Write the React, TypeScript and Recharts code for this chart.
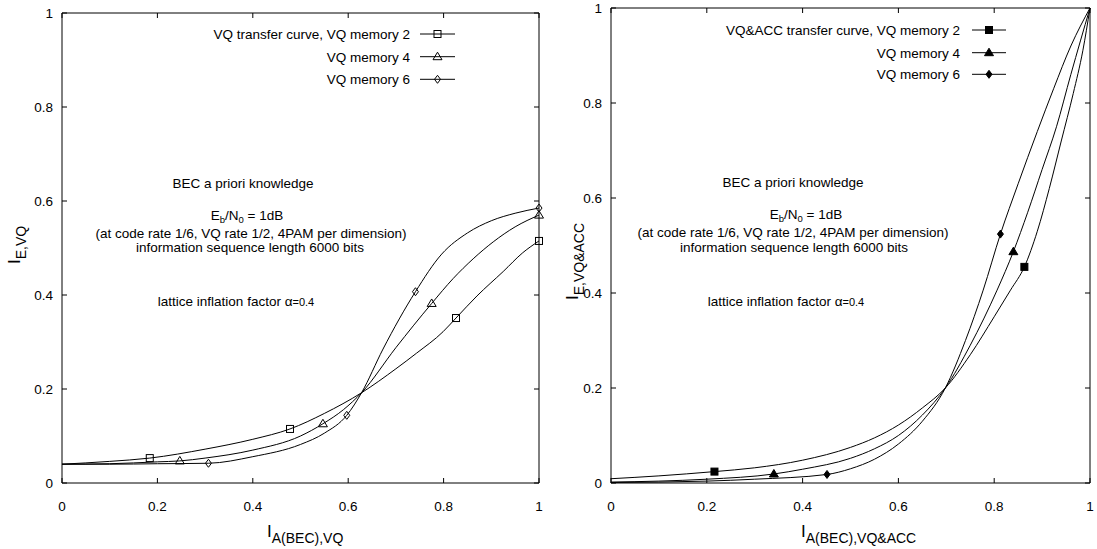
import React from "react";
import { ComposedChart, Line, XAxis, YAxis, ReferenceLine } from "recharts";

const FONT = "'Liberation Sans', Arial, Helvetica, sans-serif";

const axisTicks = [0, 0.2, 0.4, 0.6, 0.8, 1];

// left panel: VQ transfer curves
const leftMem2X = [0, 0.1, 0.184, 0.3, 0.4, 0.478, 0.55, 0.628, 0.7, 0.743, 0.799, 0.826, 0.87, 0.925, 0.966, 1];
const leftMem2Y = [0.04, 0.046, 0.053, 0.072, 0.093, 0.115, 0.148, 0.192, 0.243, 0.276, 0.322, 0.351, 0.398, 0.45, 0.49, 0.515];
const leftMem2Marks = [2, 5, 11, 15];

const leftMem4X = [0, 0.1, 0.2, 0.247, 0.3, 0.4, 0.5, 0.547, 0.59, 0.628, 0.7, 0.775, 0.82, 0.862, 0.904, 0.95, 1];
const leftMem4Y = [0.04, 0.041, 0.045, 0.047, 0.053, 0.07, 0.1, 0.126, 0.156, 0.192, 0.288, 0.382, 0.435, 0.477, 0.513, 0.545, 0.57];
const leftMem4Marks = [3, 7, 11, 16];

const leftMem6X = [0, 0.1, 0.2, 0.307, 0.4, 0.5, 0.55, 0.597, 0.628, 0.673, 0.741, 0.796, 0.85, 0.9, 0.95, 1];
const leftMem6Y = [0.04, 0.04, 0.041, 0.042, 0.056, 0.082, 0.106, 0.144, 0.192, 0.285, 0.407, 0.487, 0.532, 0.558, 0.574, 0.585];
const leftMem6Marks = [3, 7, 10, 15];

// right panel: VQ&ACC transfer curves
const rightMem2X = [0, 0.1, 0.216, 0.3, 0.4, 0.5, 0.55, 0.6, 0.65, 0.698, 0.75, 0.8, 0.834, 0.863, 0.89, 0.915, 0.94, 0.965, 0.985, 1];
const rightMem2Y = [0.009, 0.015, 0.024, 0.032, 0.048, 0.075, 0.095, 0.122, 0.158, 0.2, 0.27, 0.35, 0.406, 0.455, 0.53, 0.62, 0.72, 0.82, 0.91, 1];
const rightMem2Marks = [2, 13];

const rightMem4X = [0, 0.1, 0.2, 0.34, 0.4, 0.5, 0.55, 0.6, 0.65, 0.698, 0.75, 0.806, 0.84, 0.87, 0.9, 0.93, 0.96, 1];
const rightMem4Y = [0.002, 0.004, 0.008, 0.019, 0.029, 0.052, 0.072, 0.1, 0.143, 0.2, 0.29, 0.406, 0.487, 0.57, 0.66, 0.75, 0.86, 1];
const rightMem4Marks = [3, 12];

const rightMem6X = [0, 0.2, 0.3, 0.451, 0.5, 0.55, 0.6, 0.65, 0.698, 0.74, 0.777, 0.813, 0.85, 0.89, 0.924, 0.96, 1];
const rightMem6Y = [0.001, 0.004, 0.008, 0.018, 0.03, 0.05, 0.082, 0.13, 0.2, 0.3, 0.406, 0.524, 0.63, 0.74, 0.83, 0.92, 1];
const rightMem6Marks = [3, 11];

const leftLegend = ["VQ transfer curve, VQ memory 2", "VQ memory 4", "VQ memory 6"];
const rightLegend = ["VQ&ACC transfer curve, VQ memory 2", "VQ memory 4", "VQ memory 6"];

type Frame = { left: number; right: number; top: number; bottom: number };
type Shape = "square" | "triangle" | "diamond";

const zip = (xs: number[], ys: number[]) => xs.map((x, i) => ({ x, y: ys[i] }));

const Marker = ({ cx, cy, shape, filled }: { cx: number; cy: number; shape: Shape; filled: boolean }) => {
  const fill = filled ? "#000" : "none";
  if (shape === "square")
    return <rect x={cx - 3.5} y={cy - 3.5} width={7} height={7} fill={fill} stroke="#000" />;
  if (shape === "triangle")
    return <polygon points={`${cx},${cy - 4.5} ${cx + 4.5},${cy + 3} ${cx - 4.5},${cy + 3}`} fill={fill} stroke="#000" />;
  return <polygon points={`${cx},${cy - 4} ${cx + 3},${cy} ${cx},${cy + 4} ${cx - 3},${cy}`} fill={fill} stroke="#000" />;
};

const XTick = (props: any) => {
  const { payload, frame } = props;
  const x = payload.coordinate;
  return (
    <g>
      <line x1={x} x2={x} y1={frame.bottom} y2={frame.bottom - 5} stroke="#000" />
      <line x1={x} x2={x} y1={frame.top} y2={frame.top + 5} stroke="#000" />
      <text x={x} y={frame.bottom + 28} textAnchor="middle" fontSize={13.5} fontFamily={FONT} fill="#000">
        {String(payload.value)}
      </text>
    </g>
  );
};

const YTick = (props: any) => {
  const { payload, frame } = props;
  const y = payload.coordinate;
  return (
    <g>
      <line x1={frame.left} x2={frame.left + 5} y1={y} y2={y} stroke="#000" />
      <line x1={frame.right} x2={frame.right - 5} y1={y} y2={y} stroke="#000" />
      <text x={frame.left - 9} y={y + 4.8} textAnchor="end" fontSize={13.5} fontFamily={FONT} fill="#000">
        {String(payload.value)}
      </text>
    </g>
  );
};

type Series = { data: { x: number; y: number }[]; marks: number[]; shape: Shape };

const Panel = ({ width, frame, series, filled }: { width: number; frame: Frame; series: Series[]; filled: boolean }) => (
  <ComposedChart
    width={width}
    height={549}
    margin={{ top: frame.top, right: width - frame.right, bottom: 0, left: 0 }}
  >
    <XAxis
      type="number"
      dataKey="x"
      domain={[0, 1]}
      ticks={axisTicks}
      interval={0}
      height={549 - frame.bottom}
      axisLine={{ stroke: "#000" }}
      tickLine={false}
      tick={<XTick frame={frame} />}
    />
    <YAxis
      type="number"
      domain={[0, 1]}
      ticks={axisTicks}
      interval={0}
      width={frame.left}
      axisLine={{ stroke: "#000" }}
      tickLine={false}
      tick={<YTick frame={frame} />}
    />
    <ReferenceLine y={1} stroke="#000" />
    <ReferenceLine x={1} stroke="#000" />
    {series.map((s, k) => (
      <Line
        key={k}
        data={s.data}
        dataKey="y"
        type="monotone"
        stroke="#000"
        strokeWidth={1}
        isAnimationActive={false}
        activeDot={false}
        dot={(p: any) =>
          s.marks.includes(p.index) ? (
            <Marker key={p.index} cx={p.cx} cy={p.cy} shape={s.shape} filled={filled} />
          ) : (
            <g key={p.index} />
          )
        }
      />
    ))}
  </ComposedChart>
);

const Legend = ({ labels, textEnd, lineX1, lineX2, rows, filled }: any) => {
  const shapes: Shape[] = ["square", "triangle", "diamond"];
  return (
    <g>
      {labels.map((t: string, i: number) => (
        <g key={t}>
          <text x={textEnd} y={rows[i] + 4.8} textAnchor="end" fontSize={13.5}>
            {t}
          </text>
          <line x1={lineX1} x2={lineX2} y1={rows[i]} y2={rows[i]} stroke="#000" />
          <Marker cx={(lineX1 + lineX2) / 2} cy={rows[i]} shape={shapes[i]} filled={filled} />
        </g>
      ))}
    </g>
  );
};

const Notes = ({ cx, ys }: { cx: number[]; ys: number[] }) => (
  <g fontSize={13.5} textAnchor="middle">
    <text x={cx[0]} y={ys[0]}>BEC a priori knowledge</text>
    <text x={cx[1]} y={ys[1]}>
      E<tspan dy={3} fontSize={9.5}>b</tspan>
      <tspan dy={-3}>/N</tspan>
      <tspan dy={3} fontSize={9.5}>0</tspan>
      <tspan dy={-3}> = 1dB</tspan>
    </text>
    <text x={cx[2]} y={ys[2]}>(at code rate 1/6, VQ rate 1/2, 4PAM per dimension)</text>
    <text x={cx[3]} y={ys[3]}>information sequence length 6000 bits</text>
    <text x={cx[4]} y={ys[4]}>
      lattice inflation factor α<tspan fontSize={11}>=0.4</tspan>
    </text>
  </g>
);

export default function App() {
  const leftSeries: Series[] = [
    { data: zip(leftMem2X, leftMem2Y), marks: leftMem2Marks, shape: "square" },
    { data: zip(leftMem4X, leftMem4Y), marks: leftMem4Marks, shape: "triangle" },
    { data: zip(leftMem6X, leftMem6Y), marks: leftMem6Marks, shape: "diamond" },
  ];
  const rightSeries: Series[] = [
    { data: zip(rightMem2X, rightMem2Y), marks: rightMem2Marks, shape: "square" },
    { data: zip(rightMem4X, rightMem4Y), marks: rightMem4Marks, shape: "triangle" },
    { data: zip(rightMem6X, rightMem6Y), marks: rightMem6Marks, shape: "diamond" },
  ];

  return (
    <div style={{ position: "absolute", left: 0, top: 0, width: 1097, height: 549, background: "#fff", fontFamily: FONT }}>
      <div style={{ position: "absolute", left: 0, top: 0 }}>
        <Panel width={548} frame={{ left: 62, right: 539, top: 13, bottom: 483 }} series={leftSeries} filled={false} />
      </div>
      <div style={{ position: "absolute", left: 548, top: 0 }}>
        <Panel width={549} frame={{ left: 63, right: 542, top: 8, bottom: 483 }} series={rightSeries} filled={true} />
      </div>
      <svg
        width={1097}
        height={549}
        style={{ position: "absolute", left: 0, top: 0, pointerEvents: "none" }}
        fontFamily={FONT}
        fill="#000"
      >
        <Legend labels={leftLegend} textEnd={410} lineX1={420} lineX2={455} rows={[34, 56.7, 79.3]} filled={false} />
        <Legend labels={rightLegend} textEnd={960} lineX1={972} lineX2={1006} rows={[30, 52.7, 74.3]} filled={true} />
        <Notes cx={[243, 247, 251, 250, 236]} ys={[188, 220, 238, 252, 306]} />
        <Notes cx={[793, 806, 793, 794, 786]} ys={[187, 219, 237, 252, 306]} />

        <text x={267} y={537} fontSize={17}>
          I<tspan dy={6} fontSize={14}>A(BEC),VQ</tspan>
        </text>
        <text x={801} y={537} fontSize={17}>
          I<tspan dy={6} fontSize={14}>A(BEC),VQ&amp;ACC</tspan>
        </text>
        <text x={20} y={264} fontSize={17} transform="rotate(-90 20 264)">
          I<tspan dy={6} fontSize={14}>E,VQ</tspan>
        </text>
        <text x={578} y={300} fontSize={17} transform="rotate(-90 578 300)">
          I<tspan dy={6} fontSize={14}>E,VQ&amp;ACC</tspan>
        </text>
      </svg>
    </div>
  );
}
